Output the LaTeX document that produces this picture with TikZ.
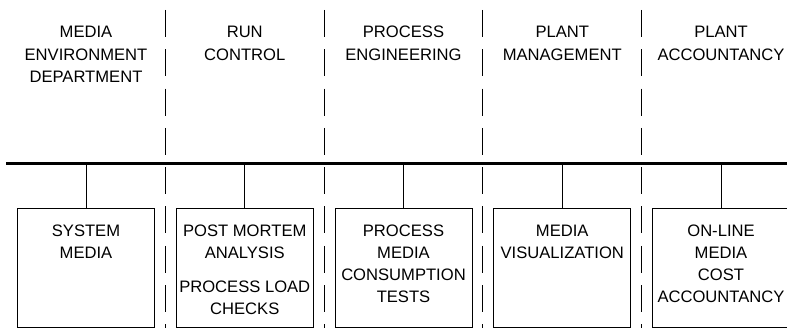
\documentclass[tikz,border=0pt]{standalone}
\usepackage{fontspec}
\setmainfont{Liberation Sans}
\usetikzlibrary{positioning}

\begin{document}
\begin{tikzpicture}[x=1pt,y=-1pt,
    headtext/.style={font=\fontsize{16.6}{22.8}\selectfont, align=center, inner sep=0pt, anchor=north},
    boxtext/.style={font=\fontsize{16.6}{22}\selectfont, align=center, inner sep=0pt},
    unit/.style={draw, line width=1pt, minimum width=137pt, minimum height=118.4pt, inner sep=0pt},
    divider/.style={line width=1pt, dash pattern=on 27pt off 12.3pt},
    bus/.style={line width=2.6pt},
    tap/.style={line width=0.9pt}]
\useasboundingbox (0,0) rectangle (787,328);
% the bus line
\coordinate (busl) at (6,163.3);
\coordinate (busr) at (792,163.3);
\draw[bus] (busl) -- (busr);
% dashed dividers between columns
\foreach \x in {1, 2, 3, 4}
    \draw[divider] (86+79.4+158.75*\x-158.75, 10) -- ++(0,320);
% one column per department
\foreach \i/\colhead/\colbody in {
    1/{MEDIA\\ENVIRONMENT\\DEPARTMENT}/{SYSTEM\\MEDIA},
    2/{RUN\\CONTROL}/{POST MORTEM\\ANALYSIS\\[11.7pt]PROCESS LOAD\\CHECKS},
    3/{PROCESS\\ENGINEERING}/{PROCESS\\MEDIA\\CONSUMPTION\\TESTS},
    4/{PLANT\\MANAGEMENT}/{MEDIA\\VISUALIZATION},
    5/{PLANT\\ACCOUNTANCY}/{ON-LINE\\MEDIA\\COST\\ACCOUNTANCY}}
{
    \coordinate (tap\i) at (86+158.75*\i-158.75, 163.3);
    \node[headtext] (head\i) at (86+158.75*\i-158.75, 25.6) {\colhead};
    \node[unit, below=45pt of tap\i] (box\i) {};
    \node[boxtext, below=16.8pt of box\i.north, anchor=north] (text\i) {\colbody};
    \draw[tap] (tap\i) -- (box\i);
}
\end{tikzpicture}
\end{document}
